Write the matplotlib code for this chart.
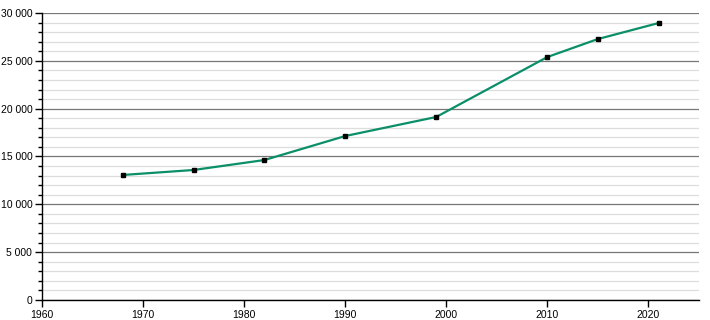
import numpy as np
import matplotlib
matplotlib.use('Agg')
import matplotlib.pyplot as plt
from matplotlib.ticker import MultipleLocator, FuncFormatter

years = [1968, 1975, 1982, 1990, 1999, 2010, 2015, 2021]
population = [13070, 13590, 14630, 17140, 19130, 25400, 27280, 28950]

plt.rcParams['font.family'] = ['Liberation Sans', 'DejaVu Sans']

fig = plt.figure(figsize=(7.1, 3.2), dpi=100)
ax = fig.add_axes([42 / 710, 20 / 320, 657 / 710, 287 / 320])

ax.plot(years, population, color='#0a8f68', lw=1.6, zorder=3)
ax.plot(years, population, 's', color='black', ms=3.5, zorder=4)

ax.set_xlim(1960, 2025)
ax.set_ylim(0, 30000)
ax.xaxis.set_major_locator(MultipleLocator(10))
ax.yaxis.set_major_locator(MultipleLocator(5000))
ax.yaxis.set_minor_locator(MultipleLocator(1000))
ax.yaxis.set_major_formatter(FuncFormatter(lambda v, p: f'{int(v):,}'.replace(',', ' ')))

ax.grid(True, which='major', axis='y', color='#777777', lw=0.9, zorder=1)
ax.grid(True, which='minor', axis='y', color='#dddddd', lw=0.9, zorder=0)

for side in ('top', 'right'):
  ax.spines[side].set_visible(False)
for side in ('left', 'bottom'):
  ax.spines[side].set_linewidth(1.0)

ax.tick_params(axis='both', which='major', labelsize=7.5, length=5, width=1, direction='out', pad=2)
ax.tick_params(axis='y', which='minor', length=3, width=1, direction='out')

fig.savefig('out.png', dpi=100)
